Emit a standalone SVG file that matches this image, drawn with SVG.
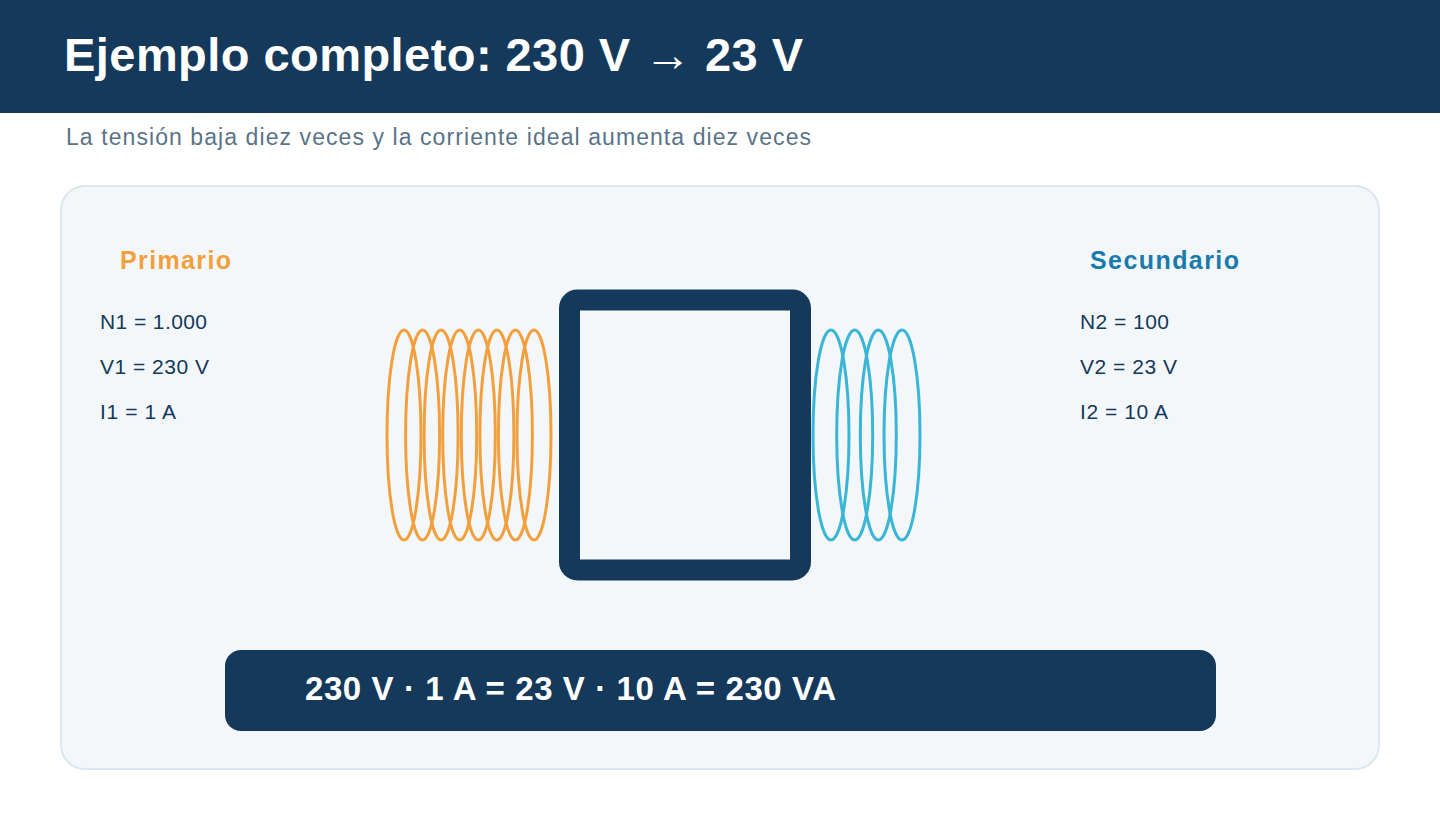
<svg xmlns="http://www.w3.org/2000/svg" width="1440" height="840" viewBox="0 0 1440 840">
<style>
.t{font-family:"Liberation Sans",Arial,sans-serif}
.v{font-size:21px;fill:#14395b}
.p{fill:none;stroke:#f2a03d;stroke-width:3}
.s{fill:none;stroke:#3ab5d6;stroke-width:3}
</style>
<rect width="1440" height="840" fill="#fff"/>
<rect width="1440" height="113" fill="#14395b"/>
<text class="t" x="64" y="71" font-size="47" font-weight="bold" fill="#fff" textLength="739">Ejemplo completo: 230 V → 23 V</text>
<text class="t" x="66" y="145" font-size="23" fill="#5b7388" textLength="745">La tensión baja diez veces y la corriente ideal aumenta diez veces</text>
<rect x="61" y="186" width="1318" height="583" rx="24" fill="#f3f7fa" stroke="#dbe7ee" stroke-width="2"/>
<g id="primario">
<text class="t" x="120" y="269" font-size="25" font-weight="bold" fill="#f2a03d" textLength="111">Primario</text>
<text class="t v" x="100" y="329" textLength="107">N1 = 1.000</text>
<text class="t v" x="100" y="374" textLength="109">V1 = 230 V</text>
<text class="t v" x="100" y="419" textLength="76">I1 = 1 A</text>
</g>
<g id="secundario">
<text class="t" x="1090" y="269" font-size="25" font-weight="bold" fill="#1a7aad" textLength="149">Secundario</text>
<text class="t v" x="1080" y="329" textLength="89">N2 = 100</text>
<text class="t v" x="1080" y="374" textLength="97">V2 = 23 V</text>
<text class="t v" x="1080" y="419" textLength="88">I2 = 10 A</text>
</g>
<g id="bobina-primaria">
<ellipse class="p" cx="404" cy="435" rx="17" ry="105"/>
<ellipse class="p" cx="422.6" cy="435" rx="17" ry="105"/>
<ellipse class="p" cx="441.1" cy="435" rx="17" ry="105"/>
<ellipse class="p" cx="459.7" cy="435" rx="17" ry="105"/>
<ellipse class="p" cx="478.3" cy="435" rx="17" ry="105"/>
<ellipse class="p" cx="496.9" cy="435" rx="17" ry="105"/>
<ellipse class="p" cx="515.4" cy="435" rx="17" ry="105"/>
<ellipse class="p" cx="534" cy="435" rx="17" ry="105"/>
</g>
<g id="nucleo">
<rect x="569.5" y="300" width="231" height="270" rx="8" fill="none" stroke="#14395b" stroke-width="21"/>
</g>
<g id="bobina-secundaria">
<ellipse class="s" cx="831" cy="435" rx="18" ry="105"/>
<ellipse class="s" cx="854.7" cy="435" rx="18" ry="105"/>
<ellipse class="s" cx="878.3" cy="435" rx="18" ry="105"/>
<ellipse class="s" cx="902" cy="435" rx="18" ry="105"/>
</g>
<g id="formula">
<rect x="225" y="650" width="991" height="81" rx="16" fill="#14395b"/>
<text class="t" x="305" y="700" font-size="33" font-weight="bold" fill="#fff" textLength="531">230 V · 1 A = 23 V · 10 A = 230 VA</text>
</g>
<g id="connectors"/>
</svg>
